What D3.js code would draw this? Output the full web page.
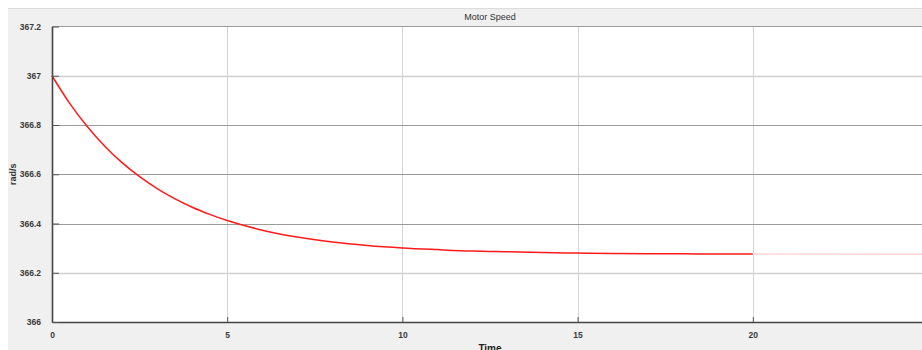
<!DOCTYPE html>
<html>
<head>
<meta charset="utf-8">
<script src="https://cdn.jsdelivr.net/npm/d3@7"></script>
<style>
  html, body { margin: 0; padding: 0; background: #fff; overflow: hidden; }
  svg { display: block; font-family: "Liberation Sans", Arial, sans-serif; }
</style>
</head>
<body>
<div id="chart"></div>
<script>
  // values (rad/s against time)
  var times = [0, 0.5, 1, 1.5, 2, 2.5, 3, 3.5, 4, 4.5, 5, 6, 7, 8, 9, 10,
               11, 12, 13, 14, 15, 16, 17, 18, 19, 20];
  var speeds = [367.000, 366.889, 366.795, 366.715, 366.647, 366.590, 366.542,
                366.501, 366.466, 366.437, 366.412, 366.373, 366.345, 366.325,
                366.311, 366.301, 366.294, 366.288, 366.285, 366.282, 366.280,
                366.278, 366.277, 366.277, 366.276, 366.276];
  // faint tail after t = 20
  var tailTimes = [20, 25];
  var tailSpeeds = [366.276, 366.275];

  var xTicks = [0, 5, 10, 15, 20];
  var yTicks = [366, 366.2, 366.4, 366.6, 366.8, 367, 367.2];
  var yTickLabels = ["366", "366.2", "366.4", "366.6", "366.8", "367", "367.2"];

  var width = 922, height = 350;
  var mLeft = 52, mRight = 928, mTop = 26.5, mBottom = 322;

  var svg = d3.select("#chart").append("svg")
      .attr("width", width)
      .attr("height", height);

  // figure background
  svg.append("rect")
      .attr("x", 8).attr("y", 9)
      .attr("width", width).attr("height", height)
      .attr("fill", "#f0f0f0");
  svg.append("line")
      .attr("x1", 8).attr("x2", width)
      .attr("y1", 8.5).attr("y2", 8.5)
      .attr("stroke", "#dcdcdc");

  var x = d3.scaleLinear().domain([0, 25]).range([mLeft, mRight]);
  var y = d3.scaleLinear().domain([366, 367.2]).range([mBottom, mTop]);

  svg.append("rect")
      .attr("x", mLeft).attr("y", mTop)
      .attr("width", mRight - mLeft).attr("height", mBottom - mTop)
      .attr("fill", "#fff");

  // grid
  var grid = svg.append("g");
  grid.selectAll(".vg")
      .data(xTicks.slice(1))
      .enter().append("line")
      .attr("x1", function(d) { return Math.round(x(d)) + 0.5; })
      .attr("x2", function(d) { return Math.round(x(d)) + 0.5; })
      .attr("y1", mTop).attr("y2", mBottom)
      .attr("stroke", "#d4d4d4");
  grid.selectAll(".hg")
      .data(yTicks.slice(1, -1))
      .enter().append("line")
      .attr("x1", mLeft).attr("x2", mRight)
      .attr("y1", function(d) { return Math.round(y(d)) + 0.5; })
      .attr("y2", function(d) { return Math.round(y(d)) + 0.5; })
      .attr("stroke", function(d, i) { return (i >= 1 && i <= 3) ? "#9a9a9a" : "#d0d0d0"; })
      .attr("stroke-width", function(d, i) { return (i >= 1 && i <= 3) ? 1.2 : 1.3; });

  // top border
  svg.append("line")
      .attr("x1", mLeft).attr("x2", mRight)
      .attr("y1", mTop).attr("y2", mTop)
      .attr("stroke", "#9a9a9a");

  // data line
  var line = d3.line()
      .x(function(d) { return x(d[0]); })
      .y(function(d) { return y(d[1]); })
      .curve(d3.curveMonotoneX);

  svg.append("path")
      .datum(d3.zip(tailTimes, tailSpeeds))
      .attr("d", line)
      .attr("fill", "none")
      .attr("stroke", "#ffd6d6")
      .attr("stroke-width", 1.6);

  svg.append("path")
      .datum(d3.zip(times, speeds))
      .attr("d", line)
      .attr("fill", "none")
      .attr("stroke", "#ff1a1a")
      .attr("stroke-width", 1.5);

  // axes
  var xAxis = d3.axisBottom(x)
      .tickValues(xTicks)
      .tickSizeInner(-5)
      .tickSizeOuter(0)
      .tickPadding(10)
      .tickFormat(d3.format("d"));
  var gx = svg.append("g")
      .attr("transform", "translate(0," + mBottom + ")")
      .call(xAxis);

  var yAxis = d3.axisLeft(y)
      .tickValues(yTicks)
      .tickSizeInner(-7)
      .tickSizeOuter(0)
      .tickPadding(11)
      .tickFormat(function(d, i) { return yTickLabels[i]; });
  var gy = svg.append("g")
      .attr("transform", "translate(" + mLeft + ",0)")
      .call(yAxis);

  [gx, gy].forEach(function(g) {
    g.select(".domain").attr("stroke", "#444").attr("stroke-width", 1.6);
    g.selectAll(".tick line").attr("stroke", "#555");
    g.selectAll(".tick text")
        .attr("fill", "#3a3a3a")
        .style("font-size", "8.5px")
        .style("font-weight", "bold");
  });

  // titles
  svg.append("text")
      .attr("x", (mLeft + mRight) / 2)
      .attr("y", 20)
      .attr("text-anchor", "middle")
      .attr("fill", "#333")
      .style("font-size", "9px")
      .text("Motor Speed");

  svg.append("text")
      .attr("transform", "translate(16," + ((mTop + mBottom) / 2) + ") rotate(-90)")
      .attr("text-anchor", "middle")
      .attr("fill", "#333")
      .style("font-size", "9px")
      .style("font-weight", "bold")
      .text("rad/s");

  svg.append("text")
      .attr("x", (mLeft + mRight) / 2)
      .attr("y", 352)
      .attr("text-anchor", "middle")
      .attr("fill", "#222")
      .style("font-size", "10px")
      .style("font-weight", "bold")
      .text("Time");
</script>
</body>
</html>
